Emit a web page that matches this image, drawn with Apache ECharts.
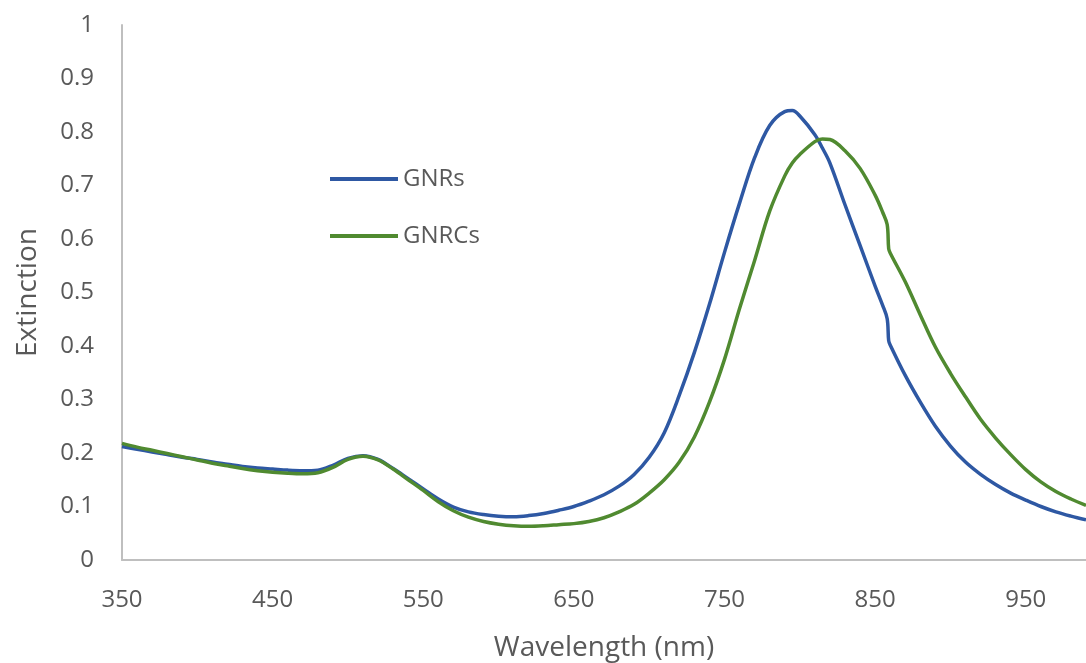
<!DOCTYPE html>
<html>
<head>
<meta charset="utf-8">
<script src="https://cdn.jsdelivr.net/npm/echarts@6/dist/echarts.min.js"></script>
<style>
html,body{margin:0;padding:0;background:#fff;}
#chart{width:1086px;height:663px;}
</style>
</head>
<body>
<div id="chart"></div>
<script>
const wavelengths = [350,360,370,380,390,400,410,420,430,440,450,460,470,480,490,500,510,520,530,540,550,560,570,580,590,600,610,620,630,640,650,660,670,680,690,700,710,720,730,740,750,760,770,780,790,795,800,810,815,820,830,840,850,855,858,859,860,870,880,890,900,910,920,930,940,950,960,970,980,990];
const gnrs = [0.212,0.207,0.202,0.197,0.192,0.188,0.183,0.179,0.175,0.172,0.170,0.168,0.167,0.168,0.177,0.190,0.195,0.188,0.171,0.152,0.133,0.114,0.099,0.090,0.085,0.082,0.081,0.083,0.087,0.093,0.100,0.110,0.122,0.138,0.160,0.192,0.238,0.308,0.388,0.478,0.575,0.667,0.752,0.812,0.838,0.840,0.830,0.795,0.770,0.742,0.664,0.588,0.512,0.476,0.451,0.410,0.402,0.345,0.295,0.250,0.213,0.183,0.160,0.141,0.125,0.112,0.100,0.090,0.082,0.075];
const gnrcs = [0.218,0.211,0.205,0.199,0.193,0.187,0.181,0.176,0.171,0.167,0.164,0.162,0.161,0.163,0.173,0.188,0.194,0.187,0.170,0.150,0.130,0.109,0.092,0.080,0.072,0.067,0.064,0.063,0.064,0.066,0.068,0.072,0.079,0.090,0.104,0.125,0.150,0.183,0.230,0.295,0.375,0.470,0.560,0.652,0.718,0.742,0.758,0.782,0.787,0.786,0.765,0.732,0.682,0.650,0.627,0.582,0.574,0.520,0.458,0.398,0.349,0.305,0.263,0.228,0.197,0.169,0.146,0.128,0.114,0.102];
const seriesNames = ['GNRs','GNRCs'];
const xTitle = 'Wavelength (nm)';
const yTitle = 'Extinction';

const font = '"Open Sans", "Noto Sans", sans-serif';
const txt = '#595959';
const chart = echarts.init(document.getElementById('chart'), null, {renderer:'canvas'});
chart.setOption({
  animation:false,
  backgroundColor:'#ffffff',
  grid:{left:122, right:0, top:25, bottom:103, containLabel:false, outerBoundsMode:'none'},
  legend:{
    orient:'vertical', left:325, top:159,
    itemWidth:68, itemHeight:4, itemGap:27, icon:'rect',
    textStyle:{fontFamily:font, fontSize:24, color:txt, lineHeight:30},
    data:seriesNames
  },
  xAxis:{
    type:'value', min:350, max:990, interval:100,
    name:xTitle, nameLocation:'middle', nameGap:74,
    nameTextStyle:{fontFamily:font, fontSize:28, color:txt},
    axisLine:{show:true, lineStyle:{color:'#bfbfbf', width:2}},
    axisTick:{show:false}, splitLine:{show:false},
    axisLabel:{fontFamily:font, fontSize:24, color:txt, margin:28, showMaxLabel:false}
  },
  yAxis:{
    type:'value', min:0, max:1, interval:0.1,
    name:yTitle, nameLocation:'middle', nameGap:80, nameRotate:90,
    nameTextStyle:{fontFamily:font, fontSize:28, color:txt},
    axisLine:{show:true, lineStyle:{color:'#bfbfbf', width:2}},
    axisTick:{show:false}, splitLine:{show:false},
    axisLabel:{fontFamily:font, fontSize:24, color:txt, margin:28,
      formatter:v=>String(Math.round(v*10)/10)}
  },
  series:[
    {name:seriesNames[0], type:'line', showSymbol:false, smooth:0.35,
     color:'#2E58A3', lineStyle:{width:3.5, color:'#2E58A3'},
     data:wavelengths.map((w,i)=>[w,gnrs[i]])},
    {name:seriesNames[1], type:'line', showSymbol:false, smooth:0.35,
     color:'#508A30', lineStyle:{width:3.5, color:'#508A30'},
     data:wavelengths.map((w,i)=>[w,gnrcs[i]])}
  ]
});
</script>
</body>
</html>
